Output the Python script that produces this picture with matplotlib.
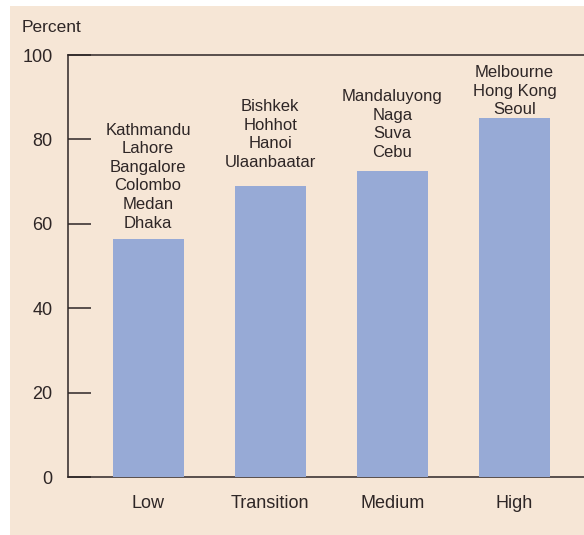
import matplotlib.pyplot as plt
from matplotlib.patches import Rectangle

categories = ['Low', 'Transition', 'Medium', 'High']
percent = [56.5, 69.0, 72.5, 85.0]
cities = [
    ['Kathmandu', 'Lahore', 'Bangalore', 'Colombo', 'Medan', 'Dhaka'],
    ['Bishkek', 'Hohhot', 'Hanoi', 'Ulaanbaatar'],
    ['Mandaluyong', 'Naga', 'Suva', 'Cebu'],
    ['Melbourne', 'Hong Kong', 'Seoul'],
]
yticks = [0, 20, 40, 60, 80, 100]

bg = '#f6e6d6'
bar_color = '#97aad6'
ink = '#2e2626'
label_pad = [8, 16, 11, 1]  # px gap between city list and bar top

plt.rcParams['font.family'] = ['Liberation Sans Narrow', 'Liberation Sans', 'DejaVu Sans']

fig = plt.figure(figsize=(5.84, 5.35), dpi=100, facecolor='white')
fig.add_artist(Rectangle((10 / 584, 0), 1, 529 / 535, transform=fig.transFigure,
                         facecolor=bg, edgecolor='none', zorder=-5))

ax = fig.add_axes([68 / 584, 1 - 477 / 535, 1 - 68 / 584, (477 - 55) / 535])
ax.set_facecolor(bg)

x = list(range(len(categories)))
ax.bar(x, percent, width=0.58, color=bar_color, zorder=3)

for xi, v, names, pad in zip(x, percent, cities, label_pad):
    ax.annotate('\n'.join(names), (xi, v), xytext=(0, pad * 0.72), textcoords='offset points',
                ha='center', va='bottom', fontsize=12, color=ink, linespacing=1.3)

ax.set_xlim(-0.656, 3.57)
ax.set_ylim(0, 100)
ax.set_xticks(x)
ax.set_xticklabels(categories)
ax.set_yticks(yticks)

ax.tick_params(axis='x', length=0, pad=13, labelsize=13, labelcolor=ink)
ax.tick_params(axis='y', direction='in', length=16.5, width=1.1, color=ink,
               pad=11, labelsize=13, labelcolor=ink)

ax.spines['right'].set_visible(False)
for s in ['left', 'top', 'bottom']:
    ax.spines[s].set_color(ink)
    ax.spines[s].set_linewidth(1.1)
ax.spines['bottom'].set_zorder(1)

fig.text(22 / 584, 1 - 28 / 535, 'Percent', ha='left', va='center', fontsize=12.5, color=ink)

fig.savefig('out.png', dpi=100, facecolor='white')
